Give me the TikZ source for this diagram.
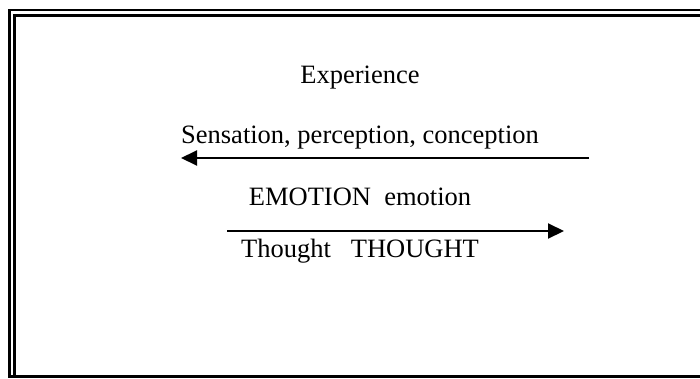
\documentclass[tikz,border=0pt]{standalone}
\usepackage{fontspec}
\setmainfont{Liberation Serif}
\usetikzlibrary{arrows.meta}
\begin{document}
\begin{tikzpicture}[x=1pt,y=-1pt,
  lbl/.style={anchor=base,inner sep=0pt,font=\fontsize{26.5}{30}\selectfont},
  frameline/.style={line width=2.6pt,line cap=rect},
  arr/.style={line width=2pt,-{Triangle[length=16pt,width=15pt]}}]
\useasboundingbox (0,0) rectangle (700,378);
% frame
\draw[frameline] (700,10) -- (9.5,10) -- (9.5,376.5) -- (700,376.5);
\draw[frameline] (700,15.5) -- (14.5,15.5) -- (14.5,376.5);
% texts
\node[lbl] (exp) at (360,83) {Experience};
\node[lbl] (spc) at (360,143) {Sensation, perception, conception};
\node[lbl] (emo) at (360,205) {EMOTION\ \ emotion};
\node[lbl] (tho) at (360,257) {Thought\ \ \ THOUGHT};
% arrows
\coordinate (a1s) at (589,158);
\coordinate (a1e) at (181,158);
\coordinate (a2s) at (227,231);
\coordinate (a2e) at (564,231);
\draw[arr] (a1s) -- (a1e);
\draw[arr] (a2s) -- (a2e);
\end{tikzpicture}
\end{document}
